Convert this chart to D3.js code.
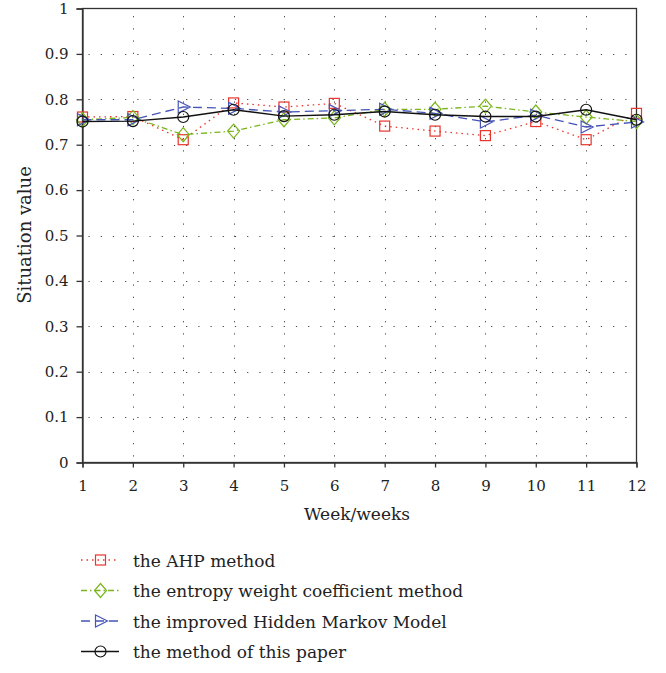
<!DOCTYPE html>
<html><head><meta charset="utf-8">
<script src="https://cdn.jsdelivr.net/npm/d3@7"></script>
<style>body{margin:0;background:#fff}svg{display:block}text{font-family:"DejaVu Serif","Liberation Serif",serif;fill:#222}</style>
</head><body><svg id="c" width="666" height="673"></svg>
<script>
const weeks = [1,2,3,4,5,6,7,8,9,10,11,12];
const ahp = [0.761,0.762,0.711,0.792,0.783,0.791,0.741,0.730,0.720,0.751,0.711,0.769];
const entropy = [0.755,0.760,0.722,0.730,0.755,0.759,0.778,0.778,0.785,0.772,0.761,0.751];
const hmm = [0.755,0.755,0.783,0.780,0.772,0.775,0.778,0.769,0.750,0.765,0.739,0.750];
const ours = [0.751,0.752,0.761,0.777,0.763,0.766,0.773,0.766,0.762,0.762,0.777,0.755];
const yTicks = [0,0.1,0.2,0.3,0.4,0.5,0.6,0.7,0.8,0.9,1];
const seriesNames = ["the AHP method","the entropy weight coefficient method","the improved Hidden Markov Model","the method of this paper"];

const FONT = '"DejaVu Serif","Liberation Serif",serif';
const svg = d3.select("#c");
const L=82.5, R=636.5, T=8.5, B=462.5;
const x = d3.scaleLinear().domain([1,12]).range([L,R]);
const y = d3.scaleLinear().domain([0,1]).range([B,T]);

// grid
const g = svg.append("g");
g.selectAll(".hg").data(yTicks.slice(1,-1)).join("line")
  .attr("x1",L+6).attr("x2",R).attr("y1",d=>Math.round(y(d))+0.5).attr("y2",d=>Math.round(y(d))+0.5)
  .attr("stroke","#444").attr("stroke-width",1).attr("stroke-dasharray","1.2,11");
g.selectAll(".vg").data(weeks.slice(1,-1)).join("line")
  .attr("y1",B-6).attr("y2",T).attr("x1",d=>Math.round(x(d))+0.5).attr("x2",d=>Math.round(x(d))+0.5)
  .attr("stroke","#444").attr("stroke-width",1).attr("stroke-dasharray","1.2,11");

// frame
svg.append("rect").attr("x",L).attr("y",T).attr("width",R-L).attr("height",B-T)
  .attr("fill","none").attr("stroke","#333").attr("stroke-width",1.3);

// axes
const ax = svg.append("g").attr("transform",`translate(0,${B})`)
  .call(d3.axisBottom(x).tickValues(weeks).tickFormat(d3.format("d")).tickSize(5).tickPadding(13));
const ay = svg.append("g").attr("transform",`translate(${L},0)`)
  .call(d3.axisLeft(y).tickValues(yTicks).tickFormat(d=>d===0?"0":d===1?"1":d3.format(".1f")(d)).tickSize(6).tickPadding(8));
[ax,ay].forEach(a=>{
  a.select(".domain").attr("stroke","#333").attr("stroke-width",1.3);
  a.selectAll(".tick line").attr("stroke","#333").attr("stroke-width",1.3);
  a.selectAll("text").style("font-family",FONT).style("font-size","15px").attr("fill","#222");
});

svg.append("text").attr("x",357).attr("y",520).attr("text-anchor","middle").style("font-size","17px").text("Week/weeks");
svg.append("text").attr("transform",`translate(31,235) rotate(-90)`).attr("text-anchor","middle").style("font-size","18px").text("Situation value");

const styles = [
  {data:ahp,color:"#e8342c",dash:"1.5,4",marker:"square"},
  {data:entropy,color:"#7ab51d",dash:"6,3,1.5,3",marker:"diamond"},
  {data:hmm,color:"#4654b8",dash:"9,5",marker:"tri"},
  {data:ours,color:"#111",dash:null,marker:"circle"}
];
function drawMarker(sel,type,color){
  if(type==="square") sel.append("rect").attr("x",-5).attr("y",-5).attr("width",10).attr("height",10);
  else if(type==="diamond") sel.append("path").attr("d","M0,-7L6,0L0,7L-6,0Z");
  else if(type==="tri") sel.append("path").attr("d","M-5,-6L7,0L-5,6Z");
  else sel.append("circle").attr("r",5.5);
  sel.selectAll("*").attr("fill","none").attr("stroke",color).attr("stroke-width",1.2);
}
const line = d3.line().x((d,i)=>x(weeks[i])).y(d=>y(d));
styles.forEach(s=>{
  svg.append("path").datum(s.data).attr("d",line).attr("fill","none").attr("stroke",s.color)
    .attr("stroke-width",s.dash? 1.3:1.4).attr("stroke-dasharray",s.dash);
  s.data.forEach((v,i)=>{
    const m = svg.append("g").attr("transform",`translate(${x(weeks[i])},${y(v)})`);
    drawMarker(m,s.marker,s.color);
  });
});

// legend
const ly = [560,590.5,621,651.5];
styles.forEach((s,i)=>{
  svg.append("line").attr("x1",81).attr("x2",119).attr("y1",ly[i]).attr("y2",ly[i])
    .attr("stroke",s.color).attr("stroke-width",1.3).attr("stroke-dasharray",s.dash);
  const m = svg.append("g").attr("transform",`translate(100.5,${ly[i]})`);
  drawMarker(m,s.marker,s.color);
  svg.append("text").attr("x",133).attr("y",ly[i]+6.5).style("font-size","17px").text(seriesNames[i]);
});
</script></body></html>
